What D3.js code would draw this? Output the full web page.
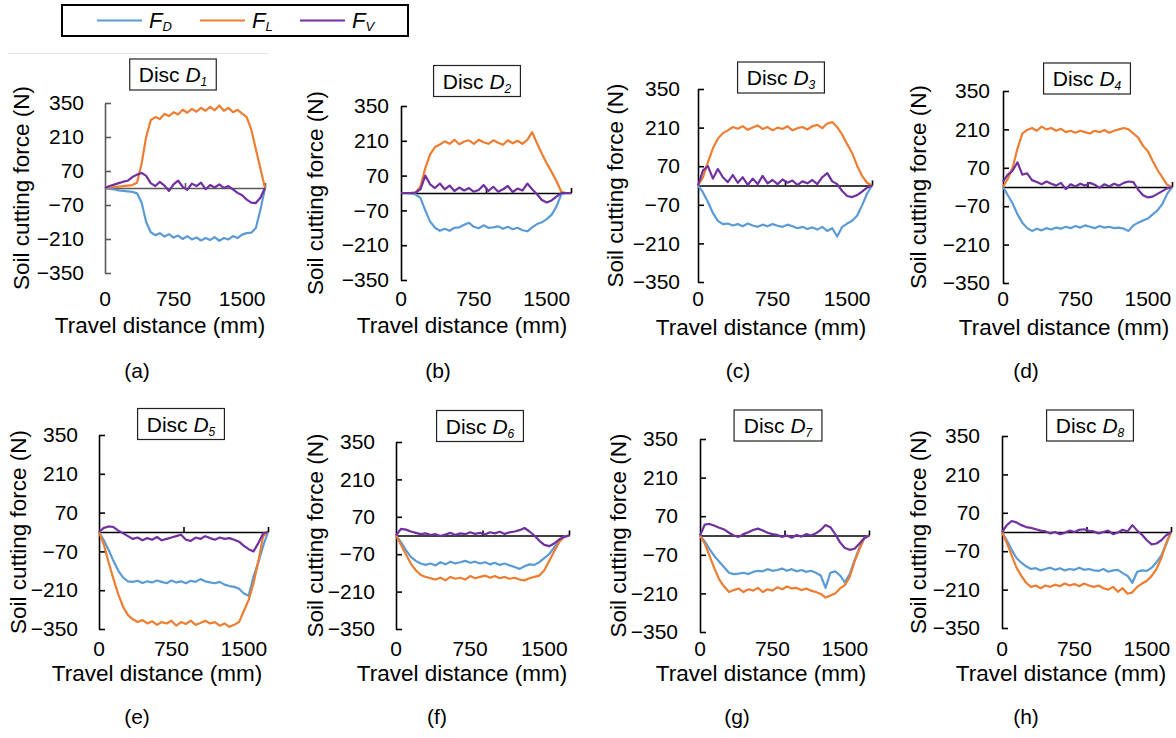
<!DOCTYPE html>
<html>
<head>
<meta charset="utf-8">
<script src="https://cdn.jsdelivr.net/npm/d3@7/dist/d3.min.js"></script>
<style>
body { margin: 0; background: #fff; }
svg { display: block; font-family: "Liberation Sans", Arial, sans-serif; }
</style>
</head>
<body>
<div id="chart"></div>
<script>
// travel distance (mm), sampled every 50 mm
var distance = [0,50,100,150,200,250,300,350,400,450,500,550,600,650,700,750,800,850,900,950,
  1000,1050,1100,1150,1200,1250,1300,1350,1400,1450,1500,1550,1600,1650,1700,1750];
var yTicks = [350, 210, 70, -70, -210, -350];
var xTicks = [0, 750, 1500];
var discNo = ["1","2","3","4","5","6","7","8"];
var captions = ["(a)","(b)","(c)","(d)","(e)","(f)","(g)","(h)"];
var legendNames = ["D","L","V"];

// soil cutting force (N)
var fdA = [0,-4,-6,-10,-12,-14,-16,-22,-60,-140,-182,-194,-186,-200,-190,-204,-196,-210,-198,-212,-204,-216,-206,-214,-202,-218,-206,-212,-198,-206,-192,-186,-184,-165,-90,0];
var flA = [0,2,4,6,8,10,12,22,100,210,279,292,284,305,296,312,303,322,310,326,314,330,318,334,320,340,318,330,312,322,306,292,240,160,80,0];
var fvA = [0,8,14,20,26,30,45,55,62,50,20,8,25,10,-12,15,30,5,-8,18,8,22,-5,12,2,15,0,8,-6,-20,-30,-48,-60,-62,-40,0];

var fdB = [0,0,-2,-6,-20,-70,-115,-140,-152,-144,-152,-140,-138,-128,-120,-136,-142,-130,-140,-138,-134,-144,-136,-146,-140,-150,-154,-138,-125,-118,-105,-88,-55,-5,0,0];
var flB = [0,0,0,2,25,100,155,185,195,208,198,214,196,207,212,198,214,204,198,212,202,194,212,200,210,198,214,245,200,158,120,85,48,5,0,0];
var fvB = [0,0,0,2,15,70,35,20,38,15,30,8,22,10,20,5,12,32,8,25,5,15,28,4,18,10,38,15,-5,-28,-38,-30,-15,0,0,0];

var fdC = [0,-25,-60,-100,-128,-140,-138,-145,-140,-148,-138,-145,-150,-142,-148,-140,-146,-150,-142,-148,-155,-150,-158,-152,-160,-150,-165,-155,-185,-150,-138,-128,-110,-72,-30,0];
var flC = [0,30,85,135,170,190,200,212,206,215,202,210,218,205,212,200,210,205,215,200,208,212,203,215,220,208,225,230,212,185,150,118,72,35,10,0];
var fvC = [0,55,70,25,60,30,12,38,10,30,2,25,5,35,8,20,5,22,10,18,2,15,8,20,5,30,45,15,5,-20,-38,-42,-35,-22,-8,0];

var fdD = [0,-30,-60,-100,-130,-150,-160,-152,-158,-150,-155,-148,-152,-145,-150,-142,-148,-140,-145,-150,-142,-148,-145,-150,-148,-152,-160,-140,-130,-122,-115,-100,-85,-62,-25,0];
var flD = [0,30,70,140,195,208,215,205,220,210,215,205,212,200,205,198,205,200,195,205,200,208,198,205,210,215,210,195,180,150,130,95,62,35,8,0];
var fvD = [20,45,60,90,45,50,25,18,10,20,12,5,15,-8,10,2,12,5,15,8,-3,10,2,12,5,15,20,18,-10,-30,-38,-35,-25,-15,-5,0];

var fdE = [0,-30,-65,-105,-140,-165,-178,-180,-176,-184,-178,-182,-175,-180,-185,-175,-182,-178,-185,-176,-180,-170,-178,-182,-185,-180,-190,-195,-198,-205,-222,-230,-160,-110,-50,0];
var flE = [0,-45,-110,-170,-225,-270,-300,-315,-325,-318,-330,-322,-335,-325,-330,-320,-338,-325,-332,-320,-335,-328,-320,-330,-325,-338,-330,-342,-335,-325,-285,-245,-185,-105,-15,0];
var fvE = [0,15,20,18,5,-5,-15,-25,-20,-30,-22,-28,-18,-30,-25,-20,-15,-10,-28,-32,-20,-25,-15,-22,-28,-20,-25,-22,-28,-35,-50,-62,-70,-40,-5,0];

var fdF = [0,-25,-55,-80,-95,-105,-110,-105,-112,-100,-108,-98,-105,-100,-95,-102,-98,-105,-100,-108,-102,-110,-105,-112,-118,-125,-115,-108,-110,-100,-85,-70,-45,-20,-5,0];
var flF = [0,-35,-70,-105,-130,-148,-155,-160,-165,-158,-168,-155,-162,-158,-165,-152,-160,-155,-150,-158,-152,-160,-155,-162,-158,-165,-168,-160,-155,-150,-130,-95,-60,-25,-5,0];
var fvF = [0,25,22,15,10,5,8,2,5,-2,4,10,2,8,5,12,6,10,4,12,8,14,6,12,15,20,28,15,0,-20,-35,-40,-30,-15,-5,0];

var fdG = [0,-22,-50,-75,-95,-115,-135,-140,-138,-135,-140,-132,-128,-130,-122,-128,-125,-120,-128,-122,-130,-125,-132,-128,-135,-145,-190,-135,-130,-145,-170,-140,-90,-45,-10,0];
var flG = [0,-30,-75,-120,-160,-185,-205,-198,-192,-205,-195,-200,-190,-205,-195,-200,-188,-195,-185,-192,-190,-198,-192,-200,-205,-212,-225,-218,-210,-192,-180,-150,-95,-50,-10,0];
var fvG = [0,40,42,35,28,22,10,0,-5,5,12,20,25,18,10,5,2,-5,0,-8,2,-4,5,0,8,20,38,30,5,-25,-45,-52,-48,-30,-10,0];

var fdH = [0,-30,-65,-95,-112,-125,-135,-132,-140,-135,-130,-138,-132,-140,-135,-138,-130,-138,-135,-140,-142,-135,-145,-140,-138,-150,-160,-185,-145,-140,-142,-130,-110,-85,-45,0];
var flH = [0,-40,-85,-130,-160,-185,-200,-195,-205,-195,-200,-192,-198,-188,-195,-190,-198,-188,-195,-200,-195,-205,-210,-200,-218,-205,-225,-220,-200,-188,-178,-160,-135,-95,-40,0];
var fvH = [0,25,40,35,25,18,15,10,5,2,-5,0,-8,-3,5,0,8,10,4,2,-5,0,5,-8,-2,8,2,25,5,-10,-30,-45,-42,-30,-12,0];

var fdAll = [fdA, fdB, fdC, fdD, fdE, fdF, fdG, fdH];
var flAll = [flA, flB, flC, flD, flE, flF, flG, flH];
var fvAll = [fvA, fvB, fvC, fvD, fvE, fvF, fvG, fvH];

var colD = "#5B9BD5", colL = "#ED7D31", colV = "#7030A0";
var colors = [colD, colL, colV];

// where each small plot sits on the page
var boxes = [
  {l:105, r:265, t:103, b:273, lab:84,  tx:173, ty:74.5, yt:21,  xt:160, xly:298, xty:325, cx:137,  cy:370, ax:"#595959"},
  {l:401, r:571, t:106, b:280, lab:389, tx:477, ty:81,   yt:315, xt:462, xly:298, xty:325, cx:438,  cy:370, ax:"#000"},
  {l:698, r:872, t:89,  b:282, lab:680, tx:781, ty:77.5, yt:615, xt:761, xly:298, xty:327, cx:738,  cy:370, ax:"#000"},
  {l:1003,r:1172,t:91,  b:283, lab:990, tx:1087,ty:78.5, yt:918, xt:1064,xly:298, xty:327, cx:1026, cy:370, ax:"#000"},
  {l:99,  r:268, t:435, b:629, lab:78,  tx:181, ty:424,  yt:18,  xt:157, xly:648, xty:673, cx:137,  cy:716, ax:"#000"},
  {l:396, r:569, t:442, b:629, lab:375, tx:480, ty:426,  yt:315, xt:462, xly:648, xty:673, cx:437,  cy:716, ax:"#000"},
  {l:700, r:869, t:439, b:632, lab:678, tx:778, ty:425.5,yt:618, xt:761, xly:648, xty:673, cx:737,  cy:716, ax:"#000"},
  {l:1002,r:1171,t:436, b:628, lab:980, tx:1090,ty:425.5,yt:918, xt:1061,xly:648, xty:673, cx:1026, cy:716, ax:"#000"}
];

var svg = d3.select("#chart").append("svg")
  .attr("width", 1176)
  .attr("height", 738);

svg.append("rect").attr("width", 1176).attr("height", 738).attr("fill", "#fff");

// faint frame line left over at top of (a)
svg.append("line")
  .attr("x1", 8).attr("x2", 268).attr("y1", 53.5).attr("y2", 53.5)
  .attr("stroke", "#e3e3e3").attr("stroke-width", 1);

boxes.forEach(function(p, i) {
  var x = d3.scaleLinear().domain([0, 1750]).range([p.l, p.r]);
  var y = d3.scaleLinear().domain([-350, 350]).range([p.b, p.t]);
  var g = svg.append("g");

  // y axis line with inside ticks
  var ya = g.append("g")
    .attr("transform", "translate(" + p.l + ",0)")
    .call(d3.axisRight(y).tickValues(yTicks).tickSize(6).tickSizeOuter(0).tickFormat(""));
  ya.selectAll("path,line").attr("stroke", p.ax).attr("stroke-width", 1.6);

  // y tick labels
  var yl = g.append("g")
    .attr("transform", "translate(" + p.l + ",0)")
    .call(d3.axisLeft(y).tickValues(yTicks).tickSize(0).tickPadding(p.l - p.lab).tickFormat(d3.format("d")));
  yl.select(".domain").remove();
  yl.selectAll("text").attr("font-size", 21).attr("fill", "#000")
    .attr("font-family", "'Liberation Sans', Arial, sans-serif");

  // x axis sitting on zero
  var xa = g.append("g")
    .attr("transform", "translate(0," + y(0) + ")")
    .call(d3.axisTop(x).tickValues([875, 1750]).tickSize(5).tickSizeOuter(0).tickFormat(""));
  xa.selectAll("path,line").attr("stroke", p.ax).attr("stroke-width", 1.6);

  // x labels low on the plot
  g.selectAll("text.xl").data(xTicks).join("text")
    .attr("class", "xl")
    .attr("x", function(d) { return x(d); })
    .attr("y", p.xly)
    .attr("dy", "0.36em")
    .attr("text-anchor", "middle")
    .attr("font-size", 21)
    .text(function(d) { return d; });

  // axis titles
  g.append("text")
    .attr("x", p.xt).attr("y", p.xty).attr("dy", "0.36em")
    .attr("text-anchor", "middle").attr("font-size", 22.5)
    .text("Travel distance (mm)");
  g.append("text")
    .attr("transform", "translate(" + p.yt + "," + ((p.t + p.b) / 2) + ") rotate(-90)")
    .attr("dy", "0.36em")
    .attr("text-anchor", "middle").attr("font-size", 22.5)
    .text("Soil cutting force (N)");

  // series
  var line = d3.line()
    .x(function(d, j) { return x(distance[j]); })
    .y(function(d) { return y(d); });
  [fdAll[i], flAll[i], fvAll[i]].forEach(function(s, k) {
    g.append("path")
      .attr("d", line(s))
      .attr("fill", "none")
      .attr("stroke", colors[k])
      .attr("stroke-width", 2.2)
      .attr("stroke-linejoin", "round");
  });

  // title box
  var tg = g.append("g");
  var tt = tg.append("text")
    .attr("x", p.tx).attr("y", p.ty).attr("dy", "0.36em")
    .attr("text-anchor", "middle").attr("font-size", 21);
  tt.append("tspan").text("Disc ");
  tt.append("tspan").attr("font-style", "italic").text("D");
  tt.append("tspan").attr("font-style", "italic").attr("font-size", 12).attr("dy", "0.35em").text(discNo[i]);
  var bb = tt.node().getBBox();
  tg.insert("rect", "text")
    .attr("x", p.tx - (bb.width + 18) / 2).attr("y", p.ty - 15.5)
    .attr("width", bb.width + 18).attr("height", 31)
    .attr("fill", "#fff").attr("stroke", "#222").attr("stroke-width", 1.2);

  // caption
  g.append("text")
    .attr("x", p.cx).attr("y", p.cy).attr("dy", "0.36em")
    .attr("text-anchor", "middle").attr("font-size", 21)
    .text(captions[i]);
});

// legend
svg.append("rect")
  .attr("x", 62).attr("y", 5).attr("width", 346).attr("height", 31)
  .attr("fill", "#fff").attr("stroke", "#000").attr("stroke-width", 2);

var legX = [97, 200, 300];
legendNames.forEach(function(n, k) {
  svg.append("line")
    .attr("x1", legX[k]).attr("x2", legX[k] + 45)
    .attr("y1", 20.5).attr("y2", 20.5)
    .attr("stroke", colors[k]).attr("stroke-width", 2.2);
  var t = svg.append("text")
    .attr("x", legX[k] + 52).attr("y", 28)
    .attr("font-size", 22).attr("font-style", "italic");
  t.append("tspan").text("F");
  t.append("tspan").attr("font-size", 13).attr("dy", 3).text(n);
});
</script>
</body>
</html>
